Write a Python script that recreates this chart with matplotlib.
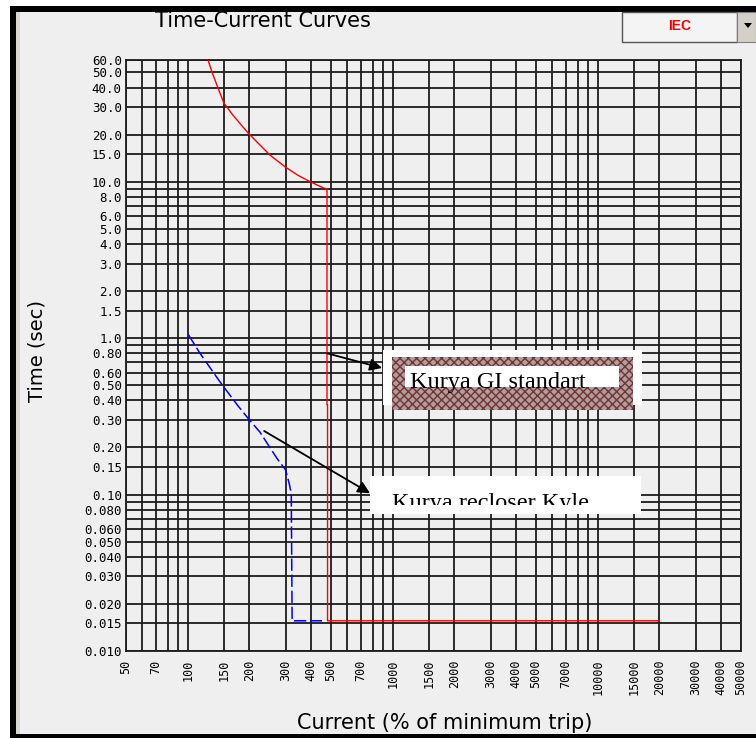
import matplotlib
matplotlib.use("Agg")
import matplotlib.pyplot as plt
from matplotlib.patches import Rectangle, Polygon

W, H = 756, 738

# ---------------- data ----------------
red_current = [125.6, 132.9, 140.5, 150, 166, 197, 252, 300, 345, 396, 462, 478, 478, 481, 481, 20000]
red_time = [60, 48.2, 39.8, 31.9, 26.7, 20.5, 14.8, 12.4, 11.0, 10.0, 9.1, 9.0, 0.375, 0.375, 0.0156, 0.0156]

blue_current = [100.4, 114.8, 140.5, 150, 176, 200, 225, 272, 300, 312, 320, 323, 323, 452]
blue_time = [1.06, 0.80, 0.548, 0.487, 0.369, 0.30, 0.251, 0.171, 0.144, 0.119, 0.102, 0.0165, 0.0156, 0.0156]

x_grid = [50, 60, 70, 80, 90, 100, 150, 200, 300, 400, 500, 600, 700, 800, 900,
          1000, 1500, 2000, 3000, 4000, 5000, 6000, 7000, 8000, 9000, 10000,
          15000, 20000, 30000, 40000, 50000]
x_labels = ["50", "", "70", "", "", "100", "150", "200", "300", "400", "500", "", "700", "", "",
            "1000", "1500", "2000", "3000", "4000", "5000", "", "7000", "", "", "10000",
            "15000", "20000", "30000", "40000", "50000"]

y_grid = [0.01, 0.015, 0.02, 0.03, 0.04, 0.05, 0.06, 0.07, 0.08, 0.09,
          0.1, 0.15, 0.2, 0.3, 0.4, 0.5, 0.6, 0.7, 0.8, 0.9,
          1.0, 1.5, 2, 3, 4, 5, 6, 7, 8, 9, 10, 15, 20, 30, 40, 50, 60]
y_labels = ["0.010", "0.015", "0.020", "0.030", "0.040", "0.050", "0.060", "", "0.080", "",
            "0.10", "0.15", "0.20", "0.30", "0.40", "0.50", "0.60", "", "0.80", "",
            "1.0", "1.5", "2.0", "3.0", "4.0", "5.0", "6.0", "", "8.0", "", "10.0", "15.0",
            "20.0", "30.0", "40.0", "50.0", "60.0"]

# annotation anchor points (current %, time)
arrow1_from = (478, 0.80)
arrow1_to = (887, 0.645)
arrow2_from = (236, 0.255)
arrow2_to = (775, 0.102)


def fx(x):
    return x / W


def fy(y):
    return 1 - y / H


fig = plt.figure(figsize=(W / 100, H / 100), dpi=100, facecolor="white")


def frect(x0, y0, x1, y1, **kw):
    r = Rectangle((fx(x0), fy(y1)), fx(x1) - fx(x0), fy(y0) - fy(y1),
                  transform=fig.transFigure, **kw)
    fig.add_artist(r)
    return r


# window background and borders
frect(10, 7, 756, 738, facecolor="#EFEFEF", edgecolor="none", zorder=0)
frect(10, 6, 756, 12, facecolor="black", edgecolor="none", zorder=1)
frect(10, 6, 16, 738, facecolor="black", edgecolor="none", zorder=1)
frect(16, 12, 20, 734, facecolor="#DAD8D0", edgecolor="none", zorder=1)
frect(10, 734, 756, 738, facecolor="black", edgecolor="none", zorder=1)

# IEC drop-down box
frect(622, 12, 737, 42, facecolor="#F4F4F4", edgecolor="#555555", lw=1.0, zorder=2)
frect(737, 12, 756, 42, facecolor="#D4D0C8", edgecolor="#808080", lw=0.8, zorder=2)
tri = Polygon([[fx(744), fy(23)], [fx(752), fy(23)], [fx(748), fy(28)]], closed=True,
              transform=fig.transFigure, facecolor="black", edgecolor="none", zorder=3)
fig.add_artist(tri)
fig.text(fx(680), fy(26), "IEC", color="#FF0000", fontsize=10, fontweight="bold",
         family="Liberation Sans", ha="center", va="center")

# title
fig.text(fx(263), fy(21), "Time-Current Curves", fontsize=15, family="DejaVu Sans",
         ha="center", va="center")

# axes
ax = fig.add_axes([fx(126), fy(651), fx(741) - fx(126), fy(60) - fy(651)])
ax.set_facecolor("#EFEFEF")
ax.set_xscale("log")
ax.set_yscale("log")
ax.set_xlim(50, 50000)
ax.set_ylim(0.01, 60)
ax.minorticks_off()
ax.set_xticks(x_grid)
ax.set_xticklabels(x_labels, rotation=90, family="DejaVu Sans Mono", fontsize=8.5)
ax.set_yticks(y_grid)
ax.set_yticklabels(y_labels, family="DejaVu Sans Mono", fontsize=9)
ax.minorticks_off()
ax.tick_params(length=0, pad=3)
ax.tick_params(axis="x", pad=6)
ax.grid(True, which="major", color="#1c1c1c", lw=1.3)
for s in ax.spines.values():
    s.set_color("#1c1c1c")
    s.set_linewidth(1.3)
ax.set_axisbelow(True)

ax.plot(red_current, red_time, color="#FF0000", lw=1.0, zorder=3)
ax.plot(blue_current, blue_time, color="#0000FF", lw=1.1, zorder=3,
        linestyle=(0, (8, 2.5)))

fig.text(fx(37), fy(351), "Time (sec)", fontsize=14, family="DejaVu Sans",
         rotation=90, ha="center", va="center")
fig.text(fx(445), fy(723), "Current (% of minimum trip)", fontsize=15,
         family="DejaVu Sans", ha="center", va="center")

# annotation boxes
frect(383, 350, 642, 405, facecolor="white", edgecolor="none", zorder=5)
frect(392, 357, 633, 410, facecolor="#B89A9A", edgecolor="#6A3636", hatch="xxxx",
      lw=0, zorder=6)
frect(405, 366, 619, 387, facecolor="white", edgecolor="none", zorder=7)
fig.text(fx(410), fy(388), "Kurya GI standart", fontsize=17.5, family="Liberation Serif",
         ha="left", va="baseline", zorder=8)

frect(370, 476, 641, 514, facecolor="white", edgecolor="none", zorder=5)
clip = Rectangle((fx(370), fy(505)), fx(641) - fx(370), fy(476) - fy(505),
                 transform=fig.transFigure, facecolor="none", edgecolor="none")
fig.add_artist(clip)
t2 = fig.text(fx(392), fy(509), "Kurya recloser Kyle", fontsize=17.5,
              family="Liberation Serif", ha="left", va="baseline", zorder=8)
t2.set_clip_path(clip)

ax.annotate("", xy=arrow1_to, xytext=arrow1_from,
            arrowprops=dict(arrowstyle="-|>", color="black", lw=1.3,
                            mutation_scale=18, shrinkA=0, shrinkB=0),
            annotation_clip=False, zorder=9)
ax.annotate("", xy=arrow2_to, xytext=arrow2_from,
            arrowprops=dict(arrowstyle="-|>", color="black", lw=1.3,
                            mutation_scale=18, shrinkA=0, shrinkB=0),
            annotation_clip=False, zorder=9)

fig.savefig("out.png", dpi=100, facecolor=fig.get_facecolor())
